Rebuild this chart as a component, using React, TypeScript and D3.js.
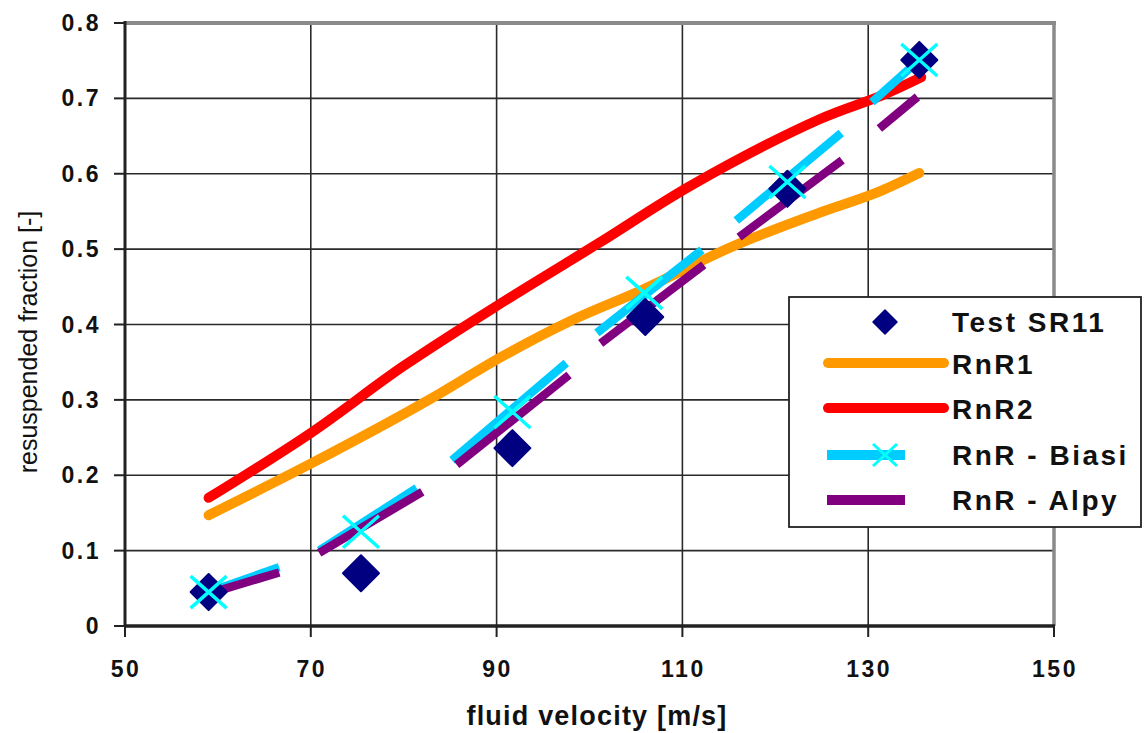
import React from "react";
import * as d3 from "d3";

// ---- data ----
const xTicks = [50, 70, 90, 110, 130, 150];
const yTicks = [0, 0.1, 0.2, 0.3, 0.4, 0.5, 0.6, 0.7, 0.8];

const testX = [59.0, 75.4, 91.7, 106.0, 121.3, 135.5];
const testY = [0.045, 0.070, 0.236, 0.410, 0.580, 0.751];

const rnr1X = [59.0, 70.1, 82.7, 90.8, 98.0, 105.7, 115.3, 124.7, 131.5, 135.5];
const rnr1Y = [0.147, 0.216, 0.300, 0.359, 0.405, 0.446, 0.503, 0.548, 0.578, 0.601];

const rnr2X = [59.0, 70.1, 80.0, 90.7, 101.0, 111.0, 124.7, 131.5, 135.7];
const rnr2Y = [0.170, 0.257, 0.345, 0.430, 0.508, 0.585, 0.672, 0.704, 0.728];

const biasiSegments: [number, number][][] = [
  [[59.0, 0.045], [66.6, 0.078]],
  [[70.9, 0.100], [81.4, 0.183]],
  [[85.2, 0.220], [97.5, 0.349]],
  [[100.8, 0.389], [112.1, 0.499]],
  [[115.8, 0.538], [127.1, 0.654]],
  [[130.4, 0.695], [135.5, 0.751]],
];
const biasiMarkX = [59.0, 75.4, 91.7, 105.9, 121.3, 135.5];
const biasiMarkY = [0.045, 0.125, 0.284, 0.442, 0.589, 0.751];

const alpySegments: [number, number][][] = [
  [[59.0, 0.043], [66.6, 0.071]],
  [[70.9, 0.097], [82.0, 0.178]],
  [[85.7, 0.214], [97.8, 0.333]],
  [[101.2, 0.375], [112.3, 0.479]],
  [[116.1, 0.516], [127.2, 0.618]],
  [[131.2, 0.660], [135.3, 0.702]],
];

const legendLabels = ["Test SR11", "RnR1", "RnR2", "RnR - Biasi", "RnR - Alpy"];

// ---- styles ----
const C = {
  test: "#000080",
  rnr1: "#FF9900",
  rnr2: "#FF0000",
  biasi: "#00CCFF",
  biasiMark: "#00FFFF",
  alpy: "#800080",
};
const FONT = "'Liberation Sans', Arial, Helvetica, sans-serif";

const W = 1144;
const H = 733;
const L = 125, R = 1054, T = 23, B = 626;

export default function App() {
  const x = d3.scaleLinear().domain([50, 150]).range([L, R]);
  const y = d3.scaleLinear().domain([0, 0.8]).range([B, T]);

  const smooth = d3
    .line<[number, number]>()
    .x((d) => x(d[0]))
    .y((d) => y(d[1]))
    .curve(d3.curveMonotoneX);
  const smoothCR = d3
    .line<[number, number]>()
    .x((d) => x(d[0]))
    .y((d) => y(d[1]))
    .curve(d3.curveCatmullRom.alpha(0.5));
  const straight = d3
    .line<[number, number]>()
    .x((d) => x(d[0]))
    .y((d) => y(d[1]));

  const rnr1Pts = rnr1X.map((v, i) => [v, rnr1Y[i]] as [number, number]);
  const rnr2Pts = rnr2X.map((v, i) => [v, rnr2Y[i]] as [number, number]);

  const diamond = (r: number) => `M0,${-r}L${r},0L0,${r}L${-r},0Z`;
  const cross = (hx: number, hy: number) =>
    `M${-hx},${-hy}L${hx},${hy}M${-hx},${hy}L${hx},${-hy}`;

  const legend = { x: 789, y: 297, w: 352, h: 230 };
  const rowY = [322, 364, 409, 455, 500];

  return (
    <svg
      width={W}
      height={H}
      style={{ position: "absolute", left: 0, top: 0, background: "#fff" }}
      fontFamily={FONT}
    >
      <rect x={0} y={0} width={W} height={H} fill="#fff" />
      {/* grid */}
      {xTicks.slice(1, -1).map((t) => (
        <line key={"gx" + t} x1={x(t)} x2={x(t)} y1={T} y2={B} stroke="#2a2a2a" strokeWidth={1.6} />
      ))}
      {yTicks.slice(1, -1).map((t) => (
        <line key={"gy" + t} x1={L} x2={R} y1={y(t)} y2={y(t)} stroke="#2a2a2a" strokeWidth={1.6} />
      ))}
      {/* frame */}
      <line x1={L} x2={R + 2} y1={T} y2={T} stroke="#8a8a8a" strokeWidth={4} />
      <line x1={R} x2={R} y1={T} y2={B} stroke="#8a8a8a" strokeWidth={3.5} />
      <line x1={L} x2={L} y1={T - 2} y2={B + 1} stroke="#222" strokeWidth={3} />
      <line x1={L - 1} x2={R + 1} y1={B} y2={B} stroke="#222" strokeWidth={3.5} />
      {/* ticks */}
      {yTicks.map((t) => (
        <line key={"ty" + t} x1={L - 11} x2={L} y1={y(t)} y2={y(t)} stroke="#222" strokeWidth={2} />
      ))}
      {xTicks.map((t) => (
        <line key={"tx" + t} x1={x(t)} x2={x(t)} y1={B} y2={B + 11} stroke="#222" strokeWidth={2} />
      ))}
      {/* tick labels */}
      {yTicks.map((t) => (
        <text
          key={"ly" + t}
          x={101}
          y={y(t) + 8}
          textAnchor="end"
          fontSize={23}
          fontWeight="bold"
          letterSpacing={2.5}
          fill="#111"
        >
          {t === 0 ? "0" : t.toFixed(1)}
        </text>
      ))}
      {xTicks.map((t) => (
        <text
          key={"lx" + t}
          x={x(t) + 1}
          y={677}
          textAnchor="middle"
          fontSize={23}
          fontWeight="bold"
          letterSpacing={2.5}
          fill="#111"
        >
          {t}
        </text>
      ))}
      {/* axis titles */}
      <text x={597} y={725} textAnchor="middle" fontSize={27} fontWeight="bold" letterSpacing={1.2} fill="#111">
        fluid velocity [m/s]
      </text>
      <text
        transform="translate(37,342) rotate(-90)"
        textAnchor="middle"
        fontSize={25}
        fill="#111"
      >
        resuspended fraction [-]
      </text>

      {/* series lines */}
      <path d={smooth(rnr1Pts) ?? ""} fill="none" stroke={C.rnr1} strokeWidth={10} strokeLinecap="round" strokeLinejoin="round" />
      <path d={smoothCR(rnr2Pts) ?? ""} fill="none" stroke={C.rnr2} strokeWidth={10} strokeLinecap="round" strokeLinejoin="round" />
      {biasiSegments.map((s, i) => (
        <path key={"b" + i} d={straight(s) ?? ""} fill="none" stroke={C.biasi} strokeWidth={8.5} />
      ))}
      {alpySegments.map((s, i) => (
        <path key={"a" + i} d={straight(s) ?? ""} fill="none" stroke={C.alpy} strokeWidth={8.5} />
      ))}
      {/* test points */}
      {testX.map((v, i) => (
        <path
          key={"t" + i}
          transform={`translate(${x(v)},${y(testY[i])})`}
          d={diamond(18)}
          fill={C.test}
          stroke={C.test}
          strokeWidth={2}
          strokeLinejoin="round"
        />
      ))}
      {/* Biasi markers */}
      {biasiMarkX.map((v, i) => (
        <path
          key={"m" + i}
          transform={`translate(${x(v)},${y(biasiMarkY[i])})`}
          d={cross(18, 16)}
          stroke={C.biasiMark}
          strokeWidth={3.5}
          fill="none"
        />
      ))}

      {/* legend */}
      <rect x={legend.x} y={legend.y} width={legend.w} height={legend.h} fill="#fff" stroke="#222" strokeWidth={1.8} />
      <path transform={`translate(885,${rowY[0]})`} d={diamond(12)} fill={C.test} stroke={C.test} strokeWidth={1.5} strokeLinejoin="round" />
      <line x1={828} x2={944} y1={rowY[1] - 1} y2={rowY[1] - 1} stroke={C.rnr1} strokeWidth={10} strokeLinecap="round" />
      <line x1={828} x2={944} y1={rowY[2] - 1} y2={rowY[2] - 1} stroke={C.rnr2} strokeWidth={10} strokeLinecap="round" />
      <line x1={827} x2={905} y1={rowY[3]} y2={rowY[3]} stroke={C.biasi} strokeWidth={10} />
      <path transform={`translate(885,${rowY[3]})`} d={cross(12, 11)} stroke={C.biasiMark} strokeWidth={3} fill="none" />
      <line x1={827} x2={905} y1={rowY[4]} y2={rowY[4]} stroke={C.alpy} strokeWidth={10} />
      {legendLabels.map((lab, i) => (
        <text
          key={lab}
          x={952}
          y={rowY[i] + 10}
          fontSize={28}
          fontWeight="bold"
          letterSpacing={2.5}
          fill="#111"
        >
          {lab}
        </text>
      ))}
    </svg>
  );
}
